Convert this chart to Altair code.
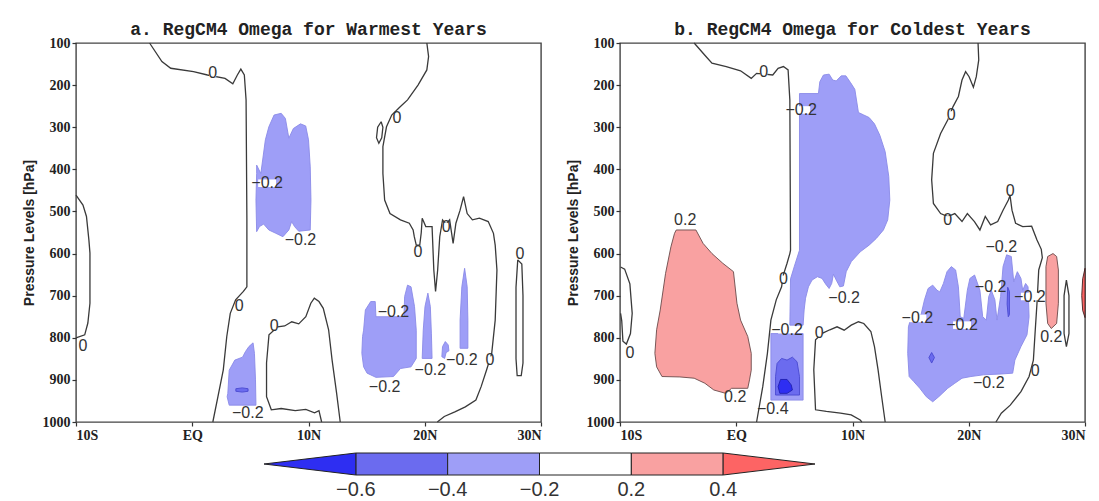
import altair as alt
import pandas as pd

# ---------------- axis / text data ----------------
LAT_TICKS = [-10, 0, 10, 20, 30]
LAT_LABELS = ["10S", "EQ", "10N", "20N", "30N"]
P_TICKS = [100, 200, 300, 400, 500, 600, 700, 800, 900, 1000]
TITLES = ["a. RegCM4 Omega for Warmest Years", "b. RegCM4 Omega for Coldest Years"]
Y_TITLE = "Pressure Levels [hPa]"

# colour classes
FILL = {"c3": "#2e2ef2", "c2": "#6b6bef", "c1": "#9e9ef7", "w": "#ffffff",
        "r1": "#f9a1a1", "r2": "#fd6464"}
EDGE = {"c3": "#2020b0", "c2": "#4a4ad0", "c1": "#8a8ae8", "r1": "#6a4a4a", "r2": "#402020"}

# colour bar
CB_LABELS = ["\u22120.6", "\u22120.4", "\u22120.2", "0.2", "0.4"]
CB_LABEL_POS = [0, 1, 2, 3, 4]
CB_BOX_START = [0, 1, 2, 3]
CB_BOX_END = [1, 2, 3, 4]
CB_BOX_CLASS = ["c2", "c1", "w", "r1"]
CB_TRI_LEFT = [(-1, 0.5), (0, 1), (0, 0)]
CB_TRI_RIGHT = [(4, 0), (4, 1), (5, 0.5)]

# ---------------- panel a (warmest) ----------------
A_LINE_TOP = [(-3.67, 100), (-2.61, 144), (-1.85, 160), (0.11, 168), (1.31, 176), (2.82, 184),
              (3.49, 197), (3.88, 176), (4.18, 162), (4.48, 176), (4.63, 235), (4.7, 520),
              (4.7, 679), (4.4, 690), (3.73, 710), (3.27, 742), (2.97, 797), (2.67, 876),
              (2.21, 940), (1.77, 1000)]
A_LINE_LEFT = [(-10, 461), (-9.4, 485), (-9.1, 512), (-8.89, 568), (-8.8, 599), (-8.8, 718),
               (-8.98, 765), (-9.25, 793), (-10, 800)]
A_LINE_MID = [(11.13, 1000), (10.9, 973), (10.52, 978), (9.77, 970), (8.86, 973), (7.65, 968),
              (6.8, 971), (6.39, 940), (6.39, 860), (6.6, 793), (7.35, 774), (7.95, 772),
              (8.56, 762), (9.16, 767), (9.77, 750), (10.2, 718), (10.5, 706), (10.9, 714),
              (11.27, 730), (11.73, 781), (12.03, 853), (12.42, 932), (12.73, 1000)]
A_LINE_RIGHT = [(20.18, 100), (20.33, 132), (20.18, 164), (19.42, 200), (18.52, 235), (17.91, 251),
                (17.16, 271), (16.71, 299), (16.40, 346), (16.40, 410), (16.55, 473), (17.01, 505),
                (17.91, 520), (18.67, 528), (19.0, 544), (19.1, 560), (19.27, 580), (19.57, 580),
                (19.7, 550), (19.78, 516), (20.09, 536), (20.63, 536), (20.78, 639), (20.93, 690),
                (21.11, 639), (21.29, 560), (21.53, 520), (21.84, 530), (22.14, 520), (22.44, 576),
                (22.68, 528), (23.04, 497), (23.34, 465), (23.65, 505), (24.10, 520), (24.70, 516),
                (25.46, 524), (25.91, 552), (26.06, 580), (26.21, 639), (26.06, 758), (25.76, 837),
                (25.31, 877), (24.85, 916), (24.40, 948), (23.49, 964), (22.59, 976), (21.68, 987),
                (21.08, 1000)]
A_LINE_LOOP1 = [(16.25, 287), (16.4, 300), (16.3, 325), (16.05, 338), (15.85, 325), (15.95, 300),
                (16.25, 287)]
A_LINE_LOOP2 = [(28.0, 615), (28.35, 625), (28.45, 700), (28.45, 860), (28.3, 890), (27.95, 890),
                (27.85, 850), (27.85, 680), (28.0, 615)]

A_FILL_1 = [(5.54, 390), (5.90, 410), (6.29, 330), (6.59, 299), (7.04, 271), (7.65, 267), (8.01, 279),
            (8.31, 326), (8.70, 303), (9.31, 292), (9.76, 297), (10.00, 330), (10.15, 394),
            (10.21, 473), (10.15, 544), (9.16, 547), (8.80, 536), (8.55, 524), (8.31, 544),
            (7.80, 560), (7.20, 552), (6.59, 544), (6.14, 530), (5.78, 536), (5.54, 548),
            (5.48, 473), (5.54, 410)]
A_FILL_2 = [(3.06, 932), (3.18, 877), (3.66, 853), (4.33, 846), (4.57, 833), (4.87, 821), (5.23, 812),
            (5.35, 837), (5.44, 900), (5.48, 960), (3.18, 960), (3.0, 940)]
A_FILL_2B = [(3.75, 921), (4.3, 919), (4.8, 921), (4.8, 927), (4.3, 929), (3.75, 927)]
A_FILL_3 = [(14.74, 782), (14.89, 734), (15.35, 714), (15.74, 714), (15.80, 750), (18.21, 750),
            (18.27, 702), (18.52, 675), (18.82, 679), (19.12, 726), (19.27, 782), (19.27, 849),
            (18.82, 869), (17.91, 873), (17.31, 892), (15.80, 894), (15.04, 884), (14.74, 869),
            (14.59, 837), (14.65, 797)]
A_FILL_4 = [(19.78, 849), (19.87, 782), (20.02, 726), (20.27, 694), (20.48, 726), (20.57, 789),
            (20.63, 849)]
A_FILL_5 = [(21.47, 845), (21.53, 821), (21.77, 809), (22.02, 817), (22.08, 831), (21.84, 835),
            (21.71, 849)]
A_FILL_6 = [(23.04, 825), (23.04, 758), (23.19, 679), (23.43, 635), (23.65, 679), (23.71, 758),
            (23.71, 825)]

A_LAB_ZERO = [(1.76, 172), (17.61, 279), (21.84, 536), (19.42, 596), (28.18, 600), (4.03, 725),
              (7.04, 772), (25.61, 853), (-9.4, 820)]
A_LAB_NEG2 = [(6.44, 433), (9.31, 568), (17.31, 738), (20.48, 877), (23.19, 853), (16.55, 916),
              (4.78, 979)]

# ---------------- panel b (coldest) ----------------
B_LINE_TOP = [(-3.62, 100), (-2.70, 129), (-2.09, 148), (-0.86, 156), (0.37, 166), (1.29, 184),
              (1.75, 172), (3.14, 176), (3.60, 160), (4.06, 156), (4.46, 164), (4.61, 235),
              (4.67, 592), (4.61, 600), (4.37, 623), (4.06, 650), (3.90, 679), (3.44, 710),
              (2.98, 758), (2.68, 837), (2.28, 916), (1.75, 1000)]
B_LINE_LEFT = [(-9.95, 632), (-9.6, 637), (-9.15, 672), (-8.95, 742), (-9.1, 790), (-9.45, 815),
               (-9.75, 808), (-9.85, 760), (-9.95, 742)]
B_LINE_MID = [(10.8, 1000), (10.66, 995), (9.89, 983), (8.97, 979), (7.75, 975), (6.82, 971),
              (6.67, 876), (6.82, 805), (7.44, 789), (8.05, 781), (8.67, 774), (9.28, 782),
              (9.89, 770), (10.51, 762), (10.97, 766), (11.58, 785), (11.89, 821), (12.2, 876),
              (12.51, 940), (12.81, 1000)]
B_LINE_RIGHT = [(20.80, 100), (20.86, 140), (20.65, 180), (20.40, 205), (20.03, 180), (19.73, 168),
                (19.42, 188), (19.11, 227), (18.65, 251), (18.19, 283), (17.58, 315), (16.96, 362),
                (16.81, 425), (16.96, 481), (17.58, 505), (18.19, 512), (18.80, 505), (19.42, 524),
                (19.88, 505), (20.49, 524), (20.96, 544), (21.42, 512), (21.88, 532), (22.49, 524),
                (22.95, 497), (23.41, 473), (23.55, 462), (23.72, 497), (24.03, 528), (24.64, 536),
                (25.41, 535), (25.87, 568), (26.24, 590), (26.33, 610), (26.02, 639), (25.87, 718),
                (25.72, 782), (25.56, 853), (25.19, 892), (24.49, 928), (23.57, 960), (22.80, 979),
                (22.34, 1000)]
B_LINE_LOOP = [(28.4, 663), (28.62, 700), (28.62, 790), (28.4, 821), (28.2, 790), (28.2, 700),
               (28.4, 663)]

B_FILL_RED1 = [(-5.31, 552), (-5.16, 544), (-3.47, 544), (-2.85, 576), (-2.09, 600), (-1.16, 623),
               (-0.24, 643), (0.06, 718), (0.37, 758), (0.99, 797), (1.29, 837), (1.29, 877),
               (1.14, 900), (0.99, 920), (-0.4, 920), (-0.9, 932), (-1.93, 924), (-2.70, 908),
               (-3.62, 896), (-4.85, 893), (-6.39, 892), (-6.85, 869), (-7.0, 837), (-6.85, 781),
               (-6.54, 734), (-6.08, 647), (-5.62, 584)]
B_FILL_BLUE1 = [(5.44, 220), (7.07, 220), (7.19, 192), (7.50, 176), (7.99, 174), (8.30, 188),
                (8.60, 190), (9.03, 178), (9.43, 178), (9.83, 194), (10.20, 210), (10.51, 265),
                (10.97, 271), (11.43, 277), (11.89, 292), (12.35, 319), (12.81, 358), (13.12, 417),
                (13.21, 473), (13.03, 520), (12.66, 544), (12.05, 564), (11.43, 580), (10.66, 596),
                (9.90, 619), (9.46, 643), (9.22, 677), (8.91, 679), (8.60, 663), (8.36, 649),
                (8.21, 671), (7.99, 683), (7.68, 672), (7.38, 659), (6.98, 655), (6.52, 663),
                (6.21, 679), (5.96, 706), (5.84, 734), (5.75, 770), (4.61, 770), (4.67, 660),
                (5.0, 630), (5.44, 592)]
B_FILL_BLUE2 = [(2.98, 790), (5.75, 790), (5.75, 948), (2.98, 948)]
B_FILL_MED1 = [(3.38, 892), (3.51, 861), (3.90, 849), (4.37, 853), (4.83, 846), (5.23, 857),
               (5.44, 892), (5.44, 936), (3.38, 936)]
B_FILL_DARK1 = [(3.60, 916), (3.81, 899), (4.37, 899), (4.73, 912), (4.83, 924), (4.37, 932),
                (3.75, 932)]
B_FILL_BLUE3 = [(14.87, 892), (14.75, 837), (14.81, 774), (15.06, 750), (15.89, 746), (16.19, 710),
                (16.50, 683), (16.90, 675), (17.27, 687), (17.51, 691), (17.82, 671), (18.13, 643),
                (18.50, 631), (18.87, 639), (19.11, 679), (19.27, 750), (19.57, 754), (19.88, 687),
                (20.10, 659), (20.50, 651), (20.96, 687), (21.20, 750), (21.51, 758), (21.72, 702),
                (21.94, 687), (22.25, 710), (22.43, 758), (22.74, 702), (22.95, 631), (23.26, 603),
                (23.66, 607), (23.87, 667), (24.18, 643), (24.49, 659), (24.64, 687), (24.89, 671),
                (25.10, 679), (25.19, 750), (25.01, 793), (24.49, 821), (23.97, 853), (23.78, 884),
                (22.80, 886), (21.26, 888), (20.19, 892), (19.42, 896), (18.80, 908), (18.19, 920),
                (17.42, 940), (16.90, 952), (16.35, 940), (15.79, 920), (15.27, 904)]
B_FILL_MED2 = [(16.81, 835), (17.05, 847), (16.81, 860), (16.57, 847)]
B_FILL_MED3 = [(23.35, 680), (23.5, 690), (23.5, 745), (23.4, 750), (23.3, 720)]
B_FILL_RED2 = [(26.64, 631), (26.79, 607), (27.25, 600), (27.56, 607), (27.71, 639), (27.71, 718),
               (27.56, 766), (27.10, 778), (26.79, 766), (26.64, 718)]
B_FILL_RED3 = [(30, 635), (29.8, 660), (29.72, 700), (29.8, 735), (30, 752)]

B_LAB_ZERO = [(2.37, 168), (18.5, 271), (23.57, 452), (18.19, 520), (4.06, 661), (7.13, 789),
              (-9.15, 837), (25.72, 880)]
B_LAB_NEG2 = [(5.59, 259), (22.80, 584), (9.28, 706), (4.37, 781), (15.58, 754), (19.42, 770),
              (21.88, 679), (25.26, 702), (21.72, 908)]
B_LAB_POS2 = [(-4.39, 520), (-0.09, 940), (27.1, 797)]
B_LAB_NEG4 = [(3.14, 968)]

PANELS = [
    {
        "title": TITLES[0],
        "lines": [A_LINE_TOP, A_LINE_LEFT, A_LINE_MID, A_LINE_RIGHT, A_LINE_LOOP1, A_LINE_LOOP2],
        "fills": [("c1", A_FILL_1), ("c1", A_FILL_2), ("c1", A_FILL_3), ("c1", A_FILL_4),
                  ("c1", A_FILL_5), ("c1", A_FILL_6), ("c2", A_FILL_2B)],
        "labels": [(A_LAB_ZERO, "0"), (A_LAB_NEG2, "\u22120.2")],
    },
    {
        "title": TITLES[1],
        "lines": [B_LINE_TOP, B_LINE_LEFT, B_LINE_MID, B_LINE_RIGHT, B_LINE_LOOP],
        "fills": [("r1", B_FILL_RED1), ("c1", B_FILL_BLUE1), ("c1", B_FILL_BLUE2),
                  ("c1", B_FILL_BLUE3), ("c2", B_FILL_MED1), ("c2", B_FILL_MED2),
                  ("c2", B_FILL_MED3), ("c3", B_FILL_DARK1), ("r1", B_FILL_RED2),
                  ("r2", B_FILL_RED3)],
        "labels": [(B_LAB_ZERO, "0"), (B_LAB_NEG2, "\u22120.2"), (B_LAB_POS2, "0.2"),
                   (B_LAB_NEG4, "\u22120.4")],
    },
]

LAB_SHAPES = {
    "s": "M-0.25,-0.27H0.25V0.27H-0.25Z",
    "m": "M-0.5,-0.27H0.5V0.27H-0.5Z",
    "l": "M-0.64,-0.27H0.64V0.27H-0.64Z",
}

lat_expr = "{" + ",".join(f"'{v}':'{t}'" for v, t in zip(LAT_TICKS, LAT_LABELS)) + "}[datum.value]"

X = alt.X("lat:Q", scale=alt.Scale(domain=[-10, 30], nice=False, zero=False),
          axis=alt.Axis(values=LAT_TICKS, labelExpr=lat_expr, title=None))
Y = alt.Y("p:Q", scale=alt.Scale(domain=[100, 1000], reverse=True, nice=False, zero=False),
          axis=alt.Axis(values=P_TICKS, format="d", title=Y_TITLE))


def pts_df(groups):
    rows = []
    for gi, pts in enumerate(groups):
        for k, (lat, p) in enumerate(pts):
            rows.append({"id": gi, "ord": k, "lat": lat, "p": p})
    return pd.DataFrame(rows)


def make_data_layer(spec):
    layers = []
    for cls in ["r1", "r2", "c1", "c2", "c3"]:
        polys = [pts for c, pts in spec["fills"] if c == cls]
        if not polys:
            continue
        layers.append(
            alt.Chart(pts_df(polys)).mark_line(
                fill=FILL[cls], stroke=EDGE[cls], strokeWidth=0.9, interpolate="linear-closed"
            ).encode(x=X, y=Y, detail="id:N", order="ord:Q")
        )
    layers.append(
        alt.Chart(pts_df(spec["lines"])).mark_line(color="#3a3a3a", strokeWidth=1.3)
        .encode(x=X, y=Y, detail="id:N", order="ord:Q")
    )
    rows = []
    for pts, txt in spec["labels"]:
        kind = "s" if len(txt) == 1 else ("m" if len(txt) == 3 else "l")
        for lat, p in pts:
            rows.append({"lat": lat, "p": p, "text": txt, "kind": kind})
    lab = pd.DataFrame(rows)
    layers.append(
        alt.Chart(lab).mark_point(filled=True, opacity=1, strokeWidth=0).encode(
            x=X, y=Y,
            shape=alt.Shape("kind:N", scale=alt.Scale(domain=list(LAB_SHAPES.keys()),
                                                       range=list(LAB_SHAPES.values())), legend=None),
            size=alt.value(784), color=alt.value("#ffffff"))
    )
    layers.append(
        alt.Chart(lab).mark_text(font="Liberation Sans", fontSize=16, color="#333333",
                                 baseline="middle", align="center")
        .encode(x=X, y=Y, text="text:N")
    )
    return alt.layer(*layers)


# ---------------- colour bar (drawn below panel a with its own scales) ----------------
cb_boxes = pd.DataFrame({"x0": CB_BOX_START, "x1": CB_BOX_END,
                         "col": [FILL[c] for c in CB_BOX_CLASS], "y0": 0, "y1": 1})
tri_rows = []
for gi, (pts, cls) in enumerate([(CB_TRI_LEFT, "c3"), (CB_TRI_RIGHT, "r2")]):
    for k, (xx, yy) in enumerate(pts):
        tri_rows.append({"id": gi, "ord": k, "x": xx, "y": yy, "col": FILL[cls]})
cb_tri = pd.DataFrame(tri_rows)
cb_text = pd.DataFrame({"x": CB_LABEL_POS, "y": -0.7, "text": CB_LABELS})

CB_XSCALE = alt.Scale(domain=[-1, 5], range=[188, 739], nice=False, zero=False)
CB_YSCALE = alt.Scale(domain=[0, 1], range=[432, 410], nice=False, zero=False)

cb_rect = alt.Chart(cb_boxes).mark_rect(stroke="#222222", strokeWidth=1).encode(
    x=alt.X("x0:Q", scale=CB_XSCALE, axis=None),
    x2="x1:Q",
    y=alt.Y("y0:Q", scale=CB_YSCALE, axis=None),
    y2="y1:Q",
    fill=alt.Fill("col:N", scale=None),
)
cb_tris = alt.Chart(cb_tri).mark_line(stroke="#222222", strokeWidth=1,
                                      interpolate="linear-closed", fill="#000000").encode(
    x=alt.X("x:Q", scale=CB_XSCALE, axis=None),
    y=alt.Y("y:Q", scale=CB_YSCALE, axis=None),
    detail="id:N", order="ord:Q", fill=alt.Fill("col:N", scale=None))
cb_labels = alt.Chart(cb_text).mark_text(font="Liberation Sans", fontSize=20, color="#333333",
                                         baseline="middle", align="center").encode(
    x=alt.X("x:Q", scale=CB_XSCALE, axis=None),
    y=alt.Y("y:Q", scale=CB_YSCALE, axis=None),
    text="text:N")
cbar = alt.layer(cb_rect, cb_tris, cb_labels)

panel_a = alt.layer(make_data_layer(PANELS[0]), cbar).resolve_scale(
    x="independent", y="independent").properties(
    width=465, height=379, title=alt.TitleParams(PANELS[0]["title"], anchor="middle", frame="group"))
panel_b = make_data_layer(PANELS[1]).properties(
    width=465, height=379, title=alt.TitleParams(PANELS[1]["title"], anchor="middle", frame="group"))

chart = alt.hconcat(panel_a, panel_b, spacing=79, bounds="flush").properties(
    padding={"left": 13, "top": 12, "right": 2, "bottom": 0},
    background="#ffffff",
).configure_view(
    stroke="#444444", strokeWidth=1.4
).configure_axis(
    domain=False, grid=False, tickSize=4, tickColor="#333333", tickWidth=1.2,
    labelFont="Liberation Serif", labelFontWeight="bold", labelFontSize=14, labelColor="#222222",
    labelPadding=2, titleFont="Liberation Sans", titleFontWeight="bold", titleFontSize=14,
    titleColor="#222222", titlePadding=6,
).configure_title(
    font="Liberation Mono", fontSize=18, fontWeight="bold", color="#222222", offset=-3,
)

chart.save("out.html", embed_options={"renderer": "svg", "actions": False})
